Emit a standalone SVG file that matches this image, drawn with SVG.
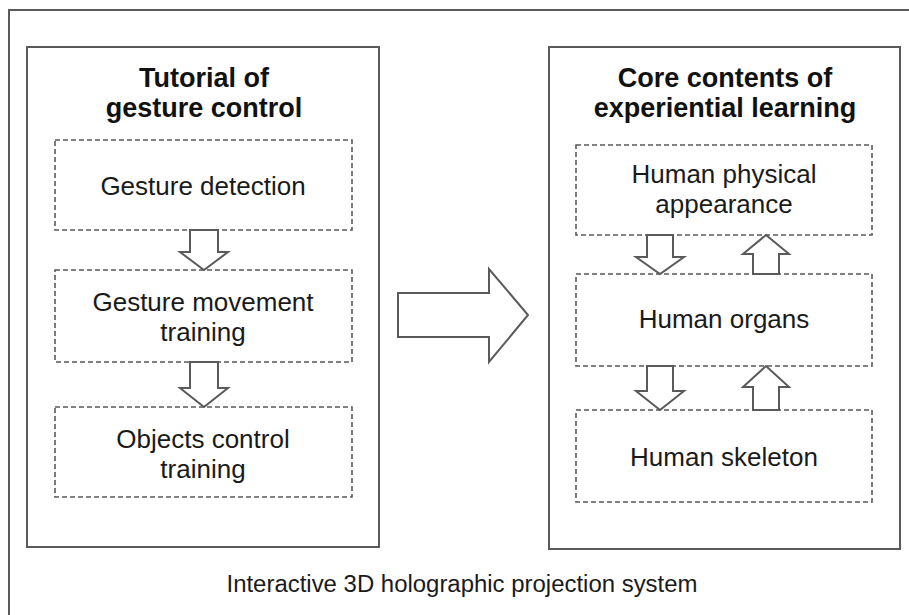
<svg xmlns="http://www.w3.org/2000/svg" width="909" height="615" viewBox="0 0 909 615">
<style>
.solid{fill:none;stroke:#5a5a5a;stroke-width:2}
.dash{fill:none;stroke:#5a5a5a;stroke-width:1.6;stroke-dasharray:5 3}
.arrow{fill:#fff;stroke:#5a5a5a;stroke-width:2;stroke-linejoin:miter}
.t{font-family:"Liberation Sans",Arial,sans-serif;font-size:26px;fill:#1a1a1a;text-anchor:middle}
.b{font-family:"Liberation Sans",Arial,sans-serif;font-size:27px;font-weight:bold;fill:#111;text-anchor:middle}
.cap{font-family:"Liberation Sans",Arial,sans-serif;font-size:23px;fill:#1a1a1a;text-anchor:middle}
</style>
<rect width="909" height="615" fill="#fff"/>
<g id="system">
<rect class="solid" x="9" y="10" width="930" height="640"/>
<text class="cap" x="462" y="592" textLength="471" lengthAdjust="spacingAndGlyphs">Interactive 3D holographic projection system</text>
</g>
<g id="tutorial">
<rect class="solid" x="27" y="47" width="352" height="500"/>
<text class="b" x="204" y="87">Tutorial of</text>
<text class="b" x="204" y="117">gesture control</text>
</g>
<g id="gesture-detection">
<rect class="dash" x="55" y="140" width="297" height="90"/>
<text class="t" x="203" y="195">Gesture detection</text>
</g>
<g id="gesture-movement">
<rect class="dash" x="55" y="270" width="297" height="92"/>
<text class="t" x="203" y="311">Gesture movement</text>
<text class="t" x="203" y="341">training</text>
</g>
<g id="objects-control">
<rect class="dash" x="55" y="407" width="297" height="90"/>
<text class="t" x="203" y="448">Objects control</text>
<text class="t" x="203" y="478">training</text>
</g>
<g id="core">
<rect class="solid" x="549" y="47" width="351" height="502"/>
<text class="b" x="725" y="87">Core contents of</text>
<text class="b" x="725" y="117">experiential learning</text>
</g>
<g id="appearance">
<rect class="dash" x="576" y="145" width="296" height="90"/>
<text class="t" x="724" y="183">Human physical</text>
<text class="t" x="724" y="213">appearance</text>
</g>
<g id="organs">
<rect class="dash" x="576" y="274" width="296" height="92"/>
<text class="t" x="724" y="328">Human organs</text>
</g>
<g id="skeleton">
<rect class="dash" x="576" y="410" width="296" height="92"/>
<text class="t" x="724" y="466">Human skeleton</text>
</g>
<g id="connectors">
<path class="arrow" d="M190,230 L218,230 L218,252 L228,252 L204,270 L180,252 L190,252 Z"/>
<path class="arrow" d="M190,362 L218,362 L218,388 L228,388 L204,407 L180,388 L190,388 Z"/>
<path class="arrow" d="M398,293 L489,293 L489,269 L528,315 L489,362 L489,337 L398,337 Z"/>
<path class="arrow" d="M647,235 L673,235 L673,257 L684,257 L660,274 L636,257 L647,257 Z"/>
<path class="arrow" d="M753,274 L779,274 L779,254 L789,254 L766,235 L743,254 L753,254 Z"/>
<path class="arrow" d="M647,366 L673,366 L673,391 L684,391 L660,410 L636,391 L647,391 Z"/>
<path class="arrow" d="M753,410 L779,410 L779,387 L789,387 L766,366 L743,387 L753,387 Z"/>
</g>
</svg>
